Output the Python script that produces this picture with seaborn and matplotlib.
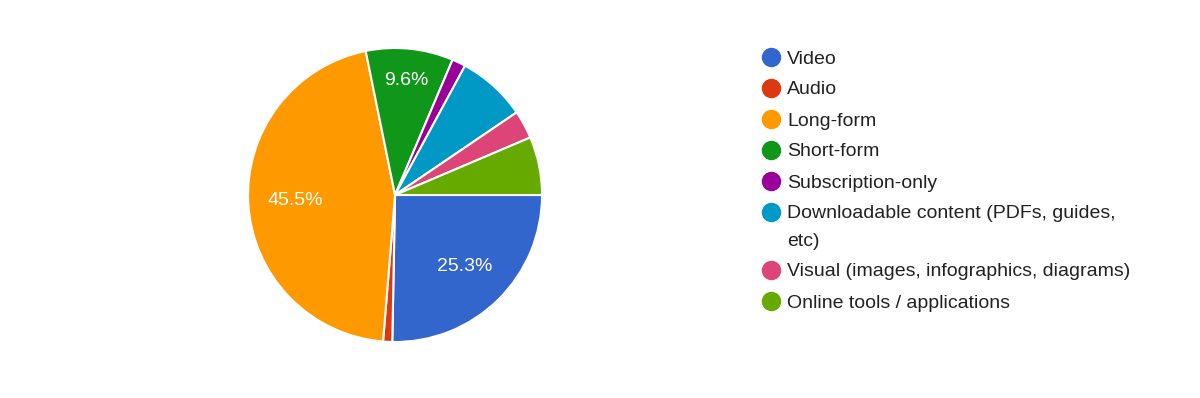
import matplotlib
matplotlib.use("Agg")
import matplotlib.pyplot as plt
import seaborn as sns

categories = ["Video", "Audio", "Long-form", "Short-form", "Subscription-only",
              "Downloadable content (PDFs, guides,\netc)",
              "Visual (images, infographics, diagrams)",
              "Online tools / applications"]
shares = [25.3, 1.0, 45.5, 9.6, 1.5, 7.6, 3.1, 6.4]
colors = ["#3366cc", "#dc3912", "#ff9900", "#109618", "#990099", "#0099c6", "#dd4477", "#66aa00"]

sns.set_theme(style="white")
plt.rcParams["font.family"] = ["Liberation Sans", "DejaVu Sans"]

W, H = 1200, 398
fig = plt.figure(figsize=(12, 3.98), dpi=100)
ax = fig.add_axes([0.2067, 0.1407, 0.245, 0.7387])

def fmt(p):
    return f"{p:.1f}%" if p >= 9 else ""

wedges, texts, autotexts = ax.pie(
    shares, colors=colors, startangle=0, counterclock=False,
    autopct=fmt, pctdistance=0.68,
    wedgeprops=dict(edgecolor="white", linewidth=1.5),
    textprops=dict(color="white", fontsize=14))
# Short-form label sits a bit further out in the reference
x, y = autotexts[3].get_position()
autotexts[3].set_position((x * 1.15, y * 1.15))
ax.set_xlim(-1, 1)
ax.set_ylim(-1, 1)
ax.set_aspect("equal")

# Manual legend in pixel-like coordinates
lax = fig.add_axes([0, 0, 1, 1], zorder=5)
lax.set_xlim(0, W)
lax.set_ylim(H, 0)
lax.axis("off")
lax.patch.set_alpha(0)
row_y = 57
for lab, c in zip(categories, colors):
    lax.plot([771], [row_y], marker="o", markersize=13, color=c, linestyle="none")
    lines = lab.split("\n")
    for k, ln in enumerate(lines):
        lax.text(787, row_y + 27 * k + 6.5, ln, fontsize=14, color="#222222",
                 va="baseline", ha="left")
    row_y += 31 + 27 * (len(lines) - 1)

fig.savefig("out.png", dpi=100, facecolor="white")
